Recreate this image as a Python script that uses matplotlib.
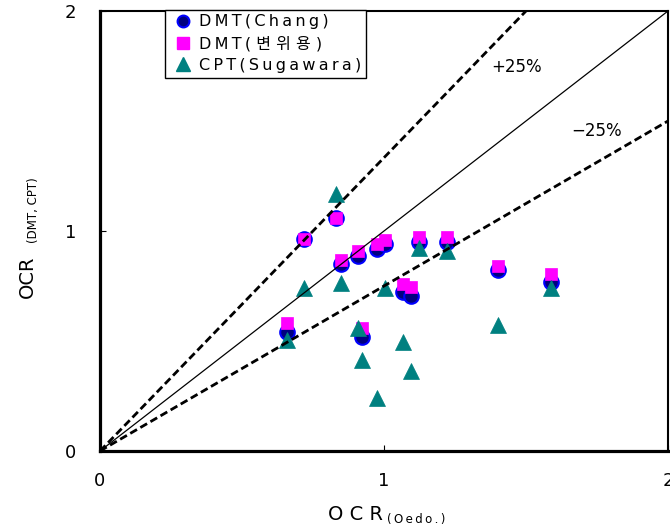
import matplotlib
matplotlib.use("Agg")
import matplotlib.pyplot as plt
from matplotlib.lines import Line2D

plt.rcParams['font.family'] = ['DejaVu Sans', 'Noto Sans CJK KR']

# Data
ocr_oedo = [0.831, 0.719, 0.849, 0.907, 0.976, 1.004, 1.124, 1.221, 1.068, 1.095, 0.657, 0.921, 1.400, 1.587]
dmt_chang = [1.058, 0.962, 0.849, 0.886, 0.918, 0.940, 0.950, 0.950, 0.721, 0.706, 0.540, 0.520, 0.823, 0.767]
dmt_byeon = [1.058, 0.962, 0.868, 0.909, 0.941, 0.959, 0.971, 0.971, 0.759, 0.747, 0.580, 0.560, 0.842, 0.803]
cpt_sugawara = [1.168, 0.740, 0.765, 0.558, 0.240, 0.740, 0.921, 0.911, 0.497, 0.364, 0.505, 0.414, 0.573, 0.740]

legend_labels = ["DMT(Chang)", "DMT(변위용)", "CPT(Sugawara)"]
line_x = [0, 2]
ratio_one = 1.0
ratio_plus = 1 / 0.75
ratio_minus = 0.75
ticks = [0, 1, 2]

W, H = 670, 529
fig = plt.figure(figsize=(W / 100, H / 100), dpi=100)
ax = fig.add_axes([100 / W, 1 - 451 / H, 568 / W, 440 / H])

ax.plot(ocr_oedo, dmt_chang, linestyle='none', marker='o', ms=10.5, mfc='#000080',
        mec='#0000FF', mew=1.5, zorder=3)
ax.plot(ocr_oedo, dmt_byeon, linestyle='none', marker='s', ms=9.2, mfc='#FF00FF',
        mec='#FF00FF', mew=0.5, zorder=4)
ax.plot(ocr_oedo, cpt_sugawara, linestyle='none', marker='^', ms=11, mfc='#008080',
        mec='#008080', mew=0.5, zorder=5)

ax.plot(line_x, [v * ratio_one for v in line_x], color='black', lw=0.9, zorder=6)
ax.plot(line_x, [v * ratio_plus for v in line_x], color='black', lw=2.0,
        linestyle=(0, (2.8, 1.4)), zorder=6)
ax.plot(line_x, [v * ratio_minus for v in line_x], color='black', lw=2.0,
        linestyle=(0, (2.8, 1.4)), zorder=6)

ax.text(1.468, 1.745, "+25%", fontsize=12, ha='center', va='center')
ax.text(1.75, 1.455, "\u221225%", fontsize=12, ha='center', va='center')

ax.set_xlim(0, 2)
ax.set_ylim(0, 2)
ax.set_xticks(ticks)
ax.set_yticks(ticks)
ax.set_xticklabels([str(t) for t in ticks])
ax.set_yticklabels([str(t) for t in ticks])
ax.tick_params(direction='in', length=4, width=0.8, labelsize=13, colors='black')
ax.tick_params(axis='x', pad=15)
ax.tick_params(axis='y', pad=17)
for s in ['left', 'bottom']:
    ax.spines[s].set_linewidth(2.3)
for s in ['top', 'right']:
    ax.spines[s].set_linewidth(1.5)
for sp in ax.spines.values():
    sp.set_zorder(7)
    sp.set_clip_on(False)


def spaced(s):
    out = s[0]
    for a, b in zip(s[:-1], s[1:]):
        gap = ' ' if (ord(a) > 127 or ord(b) > 127) else '\u2009'
        out += gap + b
    return out


# Legend
handles = [
    Line2D([], [], linestyle='none', marker='o', ms=8.5, mfc='#000080', mec='#0000FF', mew=1.5),
    Line2D([], [], linestyle='none', marker='s', ms=8.5, mfc='#FF00FF', mec='#FF00FF'),
    Line2D([], [], linestyle='none', marker='^', ms=9.5, mfc='#008080', mec='#008080'),
]
labs = [spaced(l) for l in legend_labels]
leg = ax.legend(handles, labs, loc='upper left', bbox_to_anchor=((165 - 100) / 568, 1.003),
                borderaxespad=0, fancybox=False, framealpha=1, edgecolor='black',
                handlelength=1.7, handletextpad=0.15, borderpad=0.3,
                labelspacing=0.4, prop={'family': ['DejaVu Sans', 'Noto Sans CJK KR'], 'size': 11.5})
leg.get_frame().set_linewidth(1.0)
leg.set_zorder(8)

# Axis labels
fig.text(383 / W, 9 / H, "O C R", fontsize=14, ha='right', va='baseline')
fig.text(387 / W, 6 / H, "\u2009".join(list("(Oedo.)")), fontsize=8.5, ha='left', va='baseline')
fig.text(33 / W, (H - 256) / H, "OCR", fontsize=14, rotation=90, rotation_mode='anchor',
         ha='right', va='baseline')
fig.text(37 / W, (H - 243) / H, "(DMT, CPT)", fontsize=8.5, rotation=90, rotation_mode='anchor',
         ha='left', va='baseline')

fig.savefig("out.png", dpi=100)
